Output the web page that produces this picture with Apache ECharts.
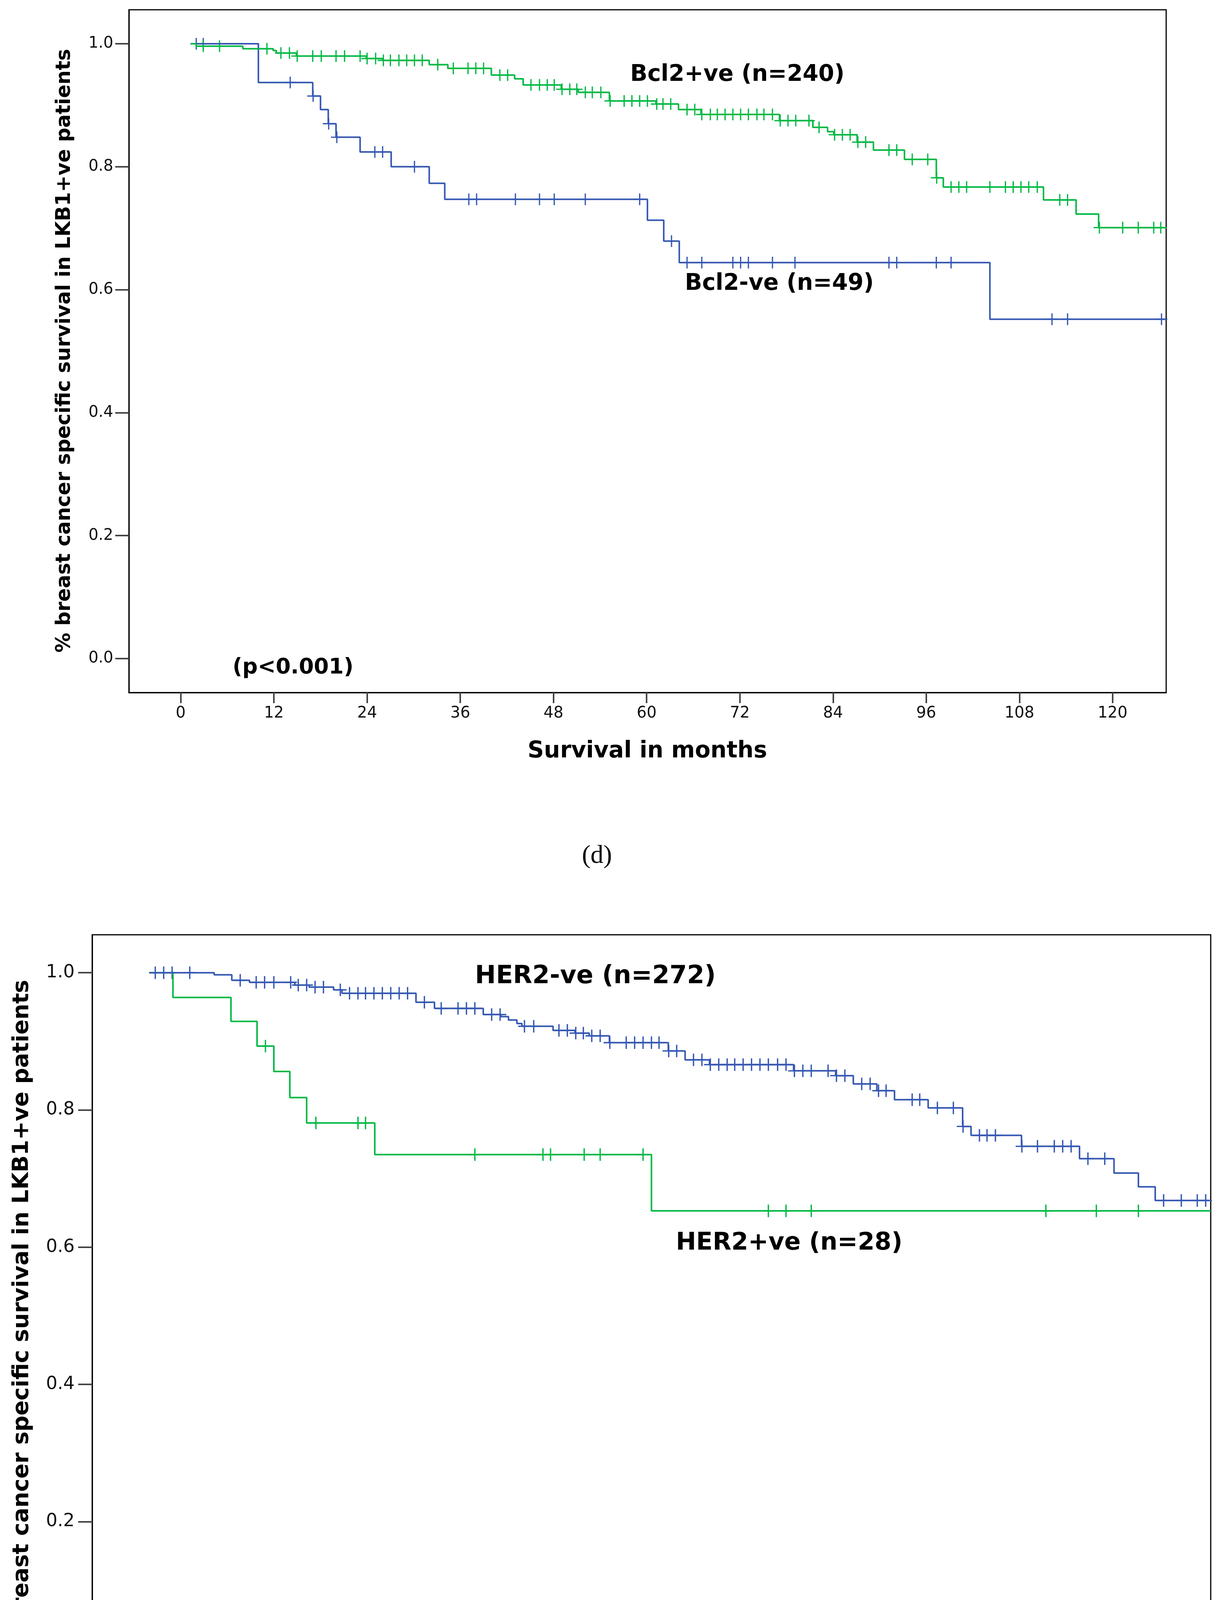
<!DOCTYPE html>
<html><head><meta charset="utf-8">
<script src="https://cdn.jsdelivr.net/npm/echarts@6/dist/echarts.min.js"></script>
<style>html,body{margin:0;padding:0;background:#fff}#c{width:3133px;height:4853px}</style>
</head><body><div id="c"></div>
<script>
// ---------- shared ticks ----------
const xTicks = [0, 12, 24, 36, 48, 60, 72, 84, 96, 108, 120];
const yTicks = [0, 0.2, 0.4, 0.6, 0.8, 1.0];

// ---------- panel (d): Bcl2 ----------
const bcl2PosTime = [1.3, 2.0, 8.0, 11.9, 12.3, 14.9, 23.9, 26.0, 32.0, 34.4, 40.0, 43.0, 44.1, 49.0, 51.2, 55.2, 61.2, 64.1, 67.0, 77.1, 81.4, 83.3, 84.1, 87.1, 89.2, 93.2, 97.3, 98.2, 111.1, 115.3, 118.2, 126.9];
const bcl2PosSurv = [1.0, 0.996, 0.992, 0.989, 0.985, 0.980, 0.976, 0.973, 0.966, 0.960, 0.949, 0.943, 0.933, 0.926, 0.921, 0.907, 0.902, 0.893, 0.885, 0.875, 0.864, 0.857, 0.852, 0.840, 0.827, 0.812, 0.782, 0.767, 0.746, 0.723, 0.701, 0.701];
const bcl2PosCensor = [2.9, 5.0, 11.1, 12.9, 14.0, 15.0, 17.0, 18.1, 20.0, 21.1, 23.1, 24.0, 25.1, 26.1, 27.0, 28.1, 29.1, 30.1, 31.1, 33.1, 35.1, 37.0, 38.0, 39.0, 41.1, 42.1, 45.1, 46.2, 47.2, 48.1, 49.1, 50.1, 51.0, 52.1, 53.0, 54.1, 55.3, 57.1, 58.1, 59.1, 60.1, 61.3, 62.1, 63.1, 65.2, 66.2, 67.1, 68.2, 69.1, 70.1, 71.1, 72.1, 73.1, 74.2, 75.1, 76.2, 77.2, 78.2, 79.2, 80.9, 82.2, 84.2, 85.2, 86.2, 87.2, 88.2, 91.2, 92.2, 94.2, 96.2, 97.35, 99.2, 100.2, 101.2, 104.2, 106.2, 107.2, 108.2, 109.2, 110.3, 113.2, 114.2, 118.3, 121.3, 123.3, 125.3, 126.2];

const bcl2NegTime = [1.3, 10.0, 17.0, 18.0, 19.0, 20.0, 23.1, 27.1, 32.0, 34.0, 60.1, 62.2, 64.2, 104.2, 126.9];
const bcl2NegSurv = [1.0, 0.937, 0.915, 0.893, 0.870, 0.848, 0.824, 0.800, 0.773, 0.747, 0.713, 0.679, 0.644, 0.552, 0.552];
const bcl2NegCensor = [2.0, 2.9, 14.1, 17.05, 19.05, 20.1, 25.0, 26.0, 30.1, 37.1, 38.1, 43.1, 46.2, 48.1, 52.1, 59.1, 63.2, 65.2, 67.1, 71.1, 72.1, 73.1, 76.2, 79.1, 91.2, 92.2, 97.3, 99.2, 112.2, 114.2, 126.3];

// ---------- panel (e): HER2 ----------
const her2NegTime = [0.2, 7.9, 10.0, 12.1, 17.5, 19.2, 22.1, 23.1, 31.9, 34.1, 39.9, 42.0, 42.9, 43.9, 44.5, 48.2, 50.8, 52.5, 54.9, 61.9, 63.9, 66.8, 76.8, 81.8, 83.9, 86.7, 88.8, 92.8, 96.9, 97.9, 103.9, 110.8, 114.9, 117.8, 119.8, 126.4];
const her2NegSurv = [1.0, 0.997, 0.989, 0.986, 0.982, 0.979, 0.975, 0.970, 0.957, 0.948, 0.939, 0.936, 0.931, 0.926, 0.922, 0.916, 0.912, 0.908, 0.898, 0.886, 0.873, 0.866, 0.857, 0.850, 0.838, 0.828, 0.815, 0.803, 0.776, 0.763, 0.747, 0.729, 0.708, 0.688, 0.668, 0.668];
const her2NegCensor = [0.9, 1.9, 2.9, 5.0, 11.0, 12.9, 13.9, 15.0, 17.0, 17.9, 18.9, 19.9, 20.9, 22.9, 24.0, 25.0, 25.9, 26.9, 27.9, 28.9, 29.9, 30.9, 32.9, 34.9, 36.9, 37.9, 38.9, 40.9, 41.9, 44.8, 45.9, 48.9, 49.9, 50.9, 51.8, 52.8, 53.8, 54.95, 56.9, 57.9, 58.9, 59.9, 60.8, 61.95, 62.9, 64.9, 65.9, 66.9, 67.9, 68.9, 69.8, 70.8, 71.8, 72.8, 73.8, 74.9, 75.9, 76.9, 77.9, 78.9, 80.9, 81.9, 82.9, 84.9, 85.9, 86.9, 87.8, 90.9, 91.8, 93.9, 95.8, 96.95, 98.9, 99.8, 100.8, 103.95, 105.8, 107.8, 108.8, 109.8, 111.8, 113.8, 120.8, 122.9, 124.8, 125.8];

const her2PosTime = [0.2, 3.0, 9.9, 13.0, 15.0, 16.9, 18.9, 27.0, 59.9, 126.4];
const her2PosSurv = [1.0, 0.964, 0.929, 0.893, 0.856, 0.818, 0.781, 0.735, 0.653, 0.653];
const her2PosCensor = [14.0, 20.0, 25.0, 25.9, 38.9, 47.0, 47.9, 51.9, 53.8, 58.9, 73.8, 75.9, 78.9, 106.8, 112.8, 117.8];

// ---------- helpers ----------
function stepData(times, surv) { return times.map((t, i) => [t, surv[i]]); }
function survAt(times, surv, t) {
  let v = surv[0];
  for (let i = 0; i < times.length; i++) { if (times[i] <= t) v = surv[i]; }
  return v;
}
function censorData(times, surv, cens) { return cens.map(t => [t, survAt(times, surv, t)]); }

const BLUE = '#3457B2';
const GREEN = '#00B843';
const PLUS = 'path://M-1.6,-15 L1.6,-15 L1.6,-1.6 L15,-1.6 L15,1.6 L1.6,1.6 L1.6,15 L-1.6,15 L-1.6,1.6 L-15,1.6 L-15,-1.6 L-1.6,-1.6 Z';
const FONT = 'DejaVu Sans';

function xAx(grid, min, max, fs, margin, tickLen) {
  return {
    gridIndex: grid, type: 'value', min: min, max: max,
    axisLine: { show: true, onZero: false, lineStyle: { color: '#000', width: 3 } },
    splitLine: { show: false },
    axisTick: { show: true, customValues: xTicks, length: tickLen, lineStyle: { color: '#444', width: 4 } },
    axisLabel: { customValues: xTicks, margin: margin, fontSize: fs, fontFamily: FONT, color: '#111' }
  };
}
function yAx(grid, fs, margin, tickLen) {
  return {
    gridIndex: grid, type: 'value', min: -0.0553, max: 1.0553,
    axisLine: { show: true, onZero: false, lineStyle: { color: '#000', width: 3 } },
    splitLine: { show: false },
    axisTick: { show: true, customValues: yTicks, length: tickLen, lineStyle: { color: '#444', width: 4 } },
    axisLabel: { customValues: yTicks, margin: margin, fontSize: fs, fontFamily: FONT, color: '#111',
      formatter: v => Number(v).toFixed(1) }
  };
}
function lineS(xi, times, surv, color) {
  return { type: 'line', xAxisIndex: xi, yAxisIndex: xi, step: 'end', data: stepData(times, surv),
    showSymbol: false, symbol: 'none', silent: true, lineStyle: { color: color, width: 4 } };
}
function censS(xi, times, surv, cens, color, size) {
  return { type: 'scatter', xAxisIndex: xi, yAxisIndex: xi, data: censorData(times, surv, cens),
    symbol: PLUS, symbolSize: size, silent: true, itemStyle: { color: color, opacity: 1 } };
}
function txt(x, y, text, fs, opts) {
  opts = opts || {};
  return { type: 'text', x: x, y: y, rotation: opts.rot || 0, silent: true,
    style: { text: text, fill: '#000', fontSize: fs, fontWeight: opts.weight || 'bold',
      fontFamily: opts.family || FONT, align: opts.align || 'center', verticalAlign: 'middle' } };
}

const chart = echarts.init(document.getElementById('c'), null, { renderer: 'canvas' });
chart.setOption({
  animation: false,
  backgroundColor: '#fff',
  grid: [
    { left: 330, top: 25, width: 2655, height: 1748, show: true, borderColor: '#000', borderWidth: 3, backgroundColor: 'transparent' },
    { left: 236, top: 2393, width: 2863, height: 1951, show: true, borderColor: '#000', borderWidth: 3, backgroundColor: 'transparent' }
  ],
  xAxis: [xAx(0, -6.67, 126.9, 40, 34, 27), xAx(1, -6.6, 126.4, 46, 36, 30)],
  yAxis: [yAx(0, 40, 40, 35), yAx(1, 46, 45, 36)],
  series: [
    lineS(0, bcl2NegTime, bcl2NegSurv, BLUE),
    censS(0, bcl2NegTime, bcl2NegSurv, bcl2NegCensor, BLUE, 30),
    lineS(0, bcl2PosTime, bcl2PosSurv, GREEN),
    censS(0, bcl2PosTime, bcl2PosSurv, bcl2PosCensor, GREEN, 30),
    lineS(1, her2PosTime, her2PosSurv, GREEN),
    censS(1, her2PosTime, her2PosSurv, her2PosCensor, GREEN, 32),
    lineS(1, her2NegTime, her2NegSurv, BLUE),
    censS(1, her2NegTime, her2NegSurv, her2NegCensor, BLUE, 32)
  ],
  graphic: [
    txt(166, 898, '% breast cancer specific survival in LKB1+ve patients', 51, { rot: Math.PI / 2 }),
    txt(1657, 1924, 'Survival in months', 58),
    txt(1613, 192, 'Bcl2+ve (n=240)', 58, { align: 'left' }),
    txt(1753, 727, 'Bcl2-ve (n=49)', 58, { align: 'left' }),
    txt(750, 1710, '(p<0.001)', 55),
    txt(1528, 2192, '(d)', 66, { weight: 'normal', family: 'Liberation Serif' }),

    txt(57, 3372, '% breast cancer specific survival in LKB1+ve patients', 57, { rot: Math.PI / 2 }),
    txt(1668, 4514, 'Survival in months', 64),
    txt(1524, 2500, 'HER2-ve (n=272)', 64),
    txt(2020, 3183, 'HER2+ve (n=28)', 62),
    txt(650, 4264, '(p<0.001)', 58),
    txt(1527, 4791, '(e)', 70, { weight: 'normal', family: 'Liberation Serif' })
  ]
});
</script>
</body></html>
